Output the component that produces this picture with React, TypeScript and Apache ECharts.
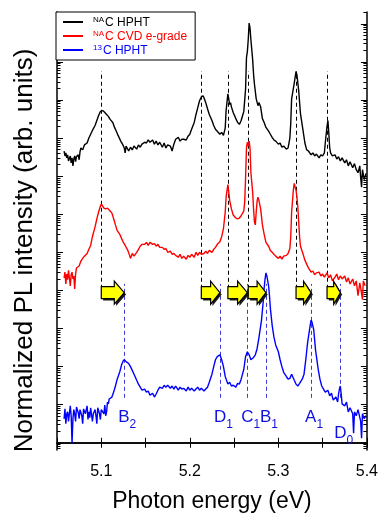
import React, { useEffect, useRef } from "react";
import * as echarts from "echarts";

// x axis (photon energy, eV)
const xTicks = [5.05, 5.1, 5.15, 5.2, 5.25, 5.3, 5.35, 5.4];
const xTickLabels = [5.1, 5.2, 5.3, 5.4];
// y axis: log scale, values are log10 of normalized intensity (offset per trace)
const yDecades = [0, 1, 2, 3, 4, 5, 6, 7, 8, 9, 10, 11];
const yMinorMultipliers = [2, 3, 4, 5, 6, 7, 8, 9];
const Y_MIN = -0.19;
const Y_MAX = 11.31;

const seriesNames = ["NAC HPHT", "NAC CVD e-grade", "13C HPHT"];
const seriesColors = ["#000000", "#ff0000", "#0000ff"];

const natHPHT = [
  [5.058, 7.66], [5.059, 7.53], [5.06, 7.61], [5.061, 7.48], [5.062, 7.56], [5.063, 7.4], [5.065, 7.53], [5.066, 7.35],
  [5.067, 7.48], [5.068, 7.27], [5.069, 7.45], [5.07, 7.53], [5.071, 7.38], [5.072, 7.51], [5.074, 7.56], [5.075, 7.43],
  [5.076, 7.64], [5.077, 7.74], [5.079, 7.69], [5.081, 7.82], [5.084, 7.87], [5.086, 8.0], [5.088, 8.1], [5.09, 8.2],
  [5.093, 8.33], [5.095, 8.46], [5.097, 8.59], [5.099, 8.7], [5.102, 8.72], [5.104, 8.67], [5.106, 8.62], [5.108, 8.57],
  [5.11, 8.49], [5.113, 8.41], [5.115, 8.28], [5.117, 8.18], [5.119, 8.07], [5.122, 7.92], [5.124, 7.84], [5.126, 7.74],
  [5.127, 7.61], [5.128, 7.79], [5.131, 7.66], [5.133, 7.76], [5.135, 7.69], [5.137, 7.79], [5.14, 7.71], [5.142, 7.82],
  [5.144, 7.76], [5.146, 7.84], [5.149, 7.89], [5.151, 7.87], [5.153, 7.95], [5.155, 7.89], [5.158, 7.95], [5.16, 7.84],
  [5.162, 7.92], [5.164, 7.82], [5.166, 7.89], [5.169, 7.76], [5.171, 7.87], [5.173, 7.74], [5.175, 7.82], [5.178, 7.79],
  [5.18, 7.66], [5.182, 7.84], [5.184, 7.97], [5.187, 8.02], [5.189, 7.92], [5.191, 7.97], [5.193, 7.97], [5.196, 7.95],
  [5.198, 8.05], [5.2, 8.1], [5.202, 8.23], [5.205, 8.41], [5.207, 8.62], [5.209, 8.8], [5.211, 8.98], [5.213, 9.08],
  [5.215, 9.11], [5.216, 9.06], [5.218, 8.93], [5.22, 8.77], [5.222, 8.62], [5.225, 8.46], [5.227, 8.33], [5.229, 8.23],
  [5.231, 8.18], [5.234, 8.1], [5.236, 8.15], [5.238, 8.07], [5.24, 8.26], [5.241, 8.72], [5.243, 9.16], [5.244, 9.03],
  [5.245, 8.88], [5.246, 8.93], [5.247, 8.82], [5.249, 8.67], [5.252, 8.51], [5.254, 8.41], [5.256, 8.36], [5.258, 8.46],
  [5.261, 8.7], [5.263, 9.29], [5.264, 10.11], [5.265, 10.27], [5.266, 10.58], [5.267, 11.02], [5.268, 10.89], [5.269, 10.58],
  [5.271, 10.06], [5.272, 9.68], [5.273, 9.42], [5.275, 9.03], [5.277, 8.85], [5.278, 8.93], [5.28, 8.82], [5.282, 8.51],
  [5.284, 8.41], [5.286, 8.28], [5.289, 8.18], [5.291, 8.1], [5.293, 8.02], [5.295, 7.95], [5.297, 7.92], [5.3, 7.84],
  [5.302, 7.87], [5.304, 7.76], [5.306, 7.79], [5.309, 7.71], [5.311, 7.74], [5.312, 7.87], [5.313, 8.0], [5.314, 8.38],
  [5.315, 9.03], [5.318, 9.45], [5.32, 9.75], [5.321, 9.66], [5.323, 9.24], [5.325, 8.64], [5.328, 8.18], [5.33, 7.87],
  [5.332, 7.69], [5.334, 7.66], [5.337, 7.56], [5.339, 7.61], [5.341, 7.53], [5.343, 7.58], [5.346, 7.48], [5.348, 7.56],
  [5.35, 7.53], [5.352, 7.61], [5.353, 7.87], [5.355, 8.31], [5.356, 8.46], [5.357, 8.13], [5.358, 7.74], [5.359, 7.61],
  [5.361, 7.53], [5.364, 7.56], [5.366, 7.45], [5.368, 7.51], [5.37, 7.4], [5.372, 7.48], [5.375, 7.35], [5.377, 7.43],
  [5.379, 7.27], [5.381, 7.38], [5.384, 7.22], [5.386, 7.33], [5.388, 7.17], [5.39, 7.09], [5.392, 7.27], [5.393, 6.96],
  [5.394, 6.71], [5.395, 7.17], [5.397, 6.91], [5.399, 7.07],
];

const natCVD = [
  [5.058, 4.33], [5.059, 4.48], [5.06, 4.17], [5.061, 4.43], [5.062, 4.28], [5.063, 4.53], [5.065, 4.12], [5.066, 4.41],
  [5.067, 4.48], [5.068, 4.3], [5.069, 4.38], [5.07, 4.04], [5.071, 4.43], [5.072, 4.59], [5.075, 4.64], [5.077, 4.77],
  [5.079, 4.84], [5.081, 4.9], [5.084, 4.97], [5.086, 5.08], [5.088, 5.18], [5.09, 5.41], [5.093, 5.67], [5.095, 5.88],
  [5.097, 6.06], [5.099, 6.21], [5.1, 6.27], [5.103, 6.16], [5.105, 6.14], [5.107, 6.16], [5.109, 6.11], [5.112, 6.03],
  [5.114, 5.88], [5.116, 5.72], [5.118, 5.57], [5.121, 5.47], [5.123, 5.36], [5.125, 5.26], [5.127, 5.18], [5.13, 5.05],
  [5.132, 4.92], [5.133, 4.84], [5.135, 4.97], [5.137, 4.9], [5.14, 5.0], [5.142, 5.08], [5.144, 5.16], [5.146, 5.21],
  [5.149, 5.21], [5.151, 5.26], [5.153, 5.18], [5.155, 5.26], [5.158, 5.21], [5.16, 5.23], [5.162, 5.16], [5.164, 5.21],
  [5.166, 5.13], [5.169, 5.13], [5.171, 5.08], [5.173, 5.1], [5.175, 5.0], [5.178, 5.03], [5.18, 4.95], [5.182, 4.97],
  [5.184, 4.92], [5.187, 4.87], [5.189, 4.95], [5.191, 4.84], [5.193, 4.9], [5.196, 4.82], [5.198, 4.92], [5.2, 4.87],
  [5.202, 4.95], [5.205, 4.87], [5.207, 5.0], [5.209, 4.92], [5.211, 5.0], [5.213, 4.95], [5.216, 4.97], [5.218, 5.03],
  [5.22, 4.97], [5.222, 5.05], [5.225, 5.0], [5.227, 5.08], [5.229, 5.13], [5.231, 5.21], [5.234, 5.28], [5.236, 5.41],
  [5.238, 5.62], [5.24, 6.06], [5.241, 6.45], [5.243, 6.78], [5.244, 6.58], [5.245, 6.37], [5.247, 6.14], [5.249, 5.98],
  [5.252, 5.9], [5.254, 5.88], [5.256, 5.9], [5.258, 5.96], [5.261, 6.09], [5.262, 6.32], [5.263, 6.96], [5.264, 7.74],
  [5.265, 7.89], [5.266, 7.79], [5.267, 7.92], [5.268, 7.74], [5.269, 7.09], [5.271, 6.58], [5.272, 6.14], [5.273, 5.8],
  [5.274, 5.72], [5.275, 6.06], [5.276, 6.34], [5.277, 6.45], [5.278, 6.37], [5.28, 6.14], [5.282, 5.72], [5.284, 5.47],
  [5.286, 5.26], [5.289, 5.16], [5.291, 5.05], [5.293, 5.0], [5.295, 4.95], [5.297, 4.9], [5.3, 4.84], [5.302, 4.9],
  [5.304, 4.82], [5.306, 4.9], [5.309, 4.92], [5.311, 4.97], [5.313, 5.1], [5.314, 5.41], [5.315, 6.06], [5.317, 6.65],
  [5.318, 6.81], [5.319, 6.71], [5.32, 6.63], [5.321, 6.45], [5.322, 6.19], [5.323, 5.8], [5.324, 5.41], [5.325, 5.16],
  [5.328, 4.95], [5.33, 4.79], [5.332, 4.69], [5.334, 4.59], [5.337, 4.48], [5.339, 4.51], [5.341, 4.41], [5.343, 4.46],
  [5.346, 4.48], [5.348, 4.38], [5.35, 4.43], [5.352, 4.35], [5.355, 4.46], [5.357, 4.33], [5.359, 4.41], [5.361, 4.25],
  [5.364, 4.35], [5.366, 4.43], [5.368, 4.28], [5.37, 4.38], [5.372, 4.3], [5.375, 4.38], [5.377, 4.22], [5.379, 4.33],
  [5.381, 4.17], [5.384, 4.3], [5.386, 4.12], [5.388, 4.25], [5.39, 3.86], [5.392, 4.2], [5.393, 4.07], [5.395, 3.76],
  [5.396, 4.25], [5.398, 4.12],
];

const c13HPHT = [
  [5.058, 0.63], [5.059, 0.89], [5.06, 0.5], [5.061, 0.76], [5.062, 0.81], [5.063, 0.56], [5.065, 0.97], [5.066, 0.71],
  [5.067, -0.01], [5.068, 0.63], [5.069, 0.87], [5.07, 0.76], [5.071, 0.56], [5.072, 0.94], [5.074, 0.79], [5.075, 0.63],
  [5.076, 0.87], [5.078, 0.71], [5.079, 0.5], [5.08, 0.89], [5.082, 0.76], [5.084, 0.97], [5.085, 0.61], [5.086, 0.81],
  [5.087, 0.66], [5.088, 0.92], [5.09, 0.56], [5.091, 0.76], [5.093, 0.87], [5.094, 0.71], [5.095, 0.5], [5.096, 0.92],
  [5.098, 0.76], [5.099, 0.61], [5.1, 0.87], [5.103, 0.76], [5.104, 0.99], [5.105, 0.71], [5.106, 0.81], [5.107, 1.07],
  [5.108, 1.02], [5.109, 1.15], [5.112, 1.2], [5.114, 1.33], [5.116, 1.49], [5.118, 1.67], [5.121, 1.87], [5.123, 2.05],
  [5.125, 2.16], [5.126, 2.18], [5.128, 2.13], [5.131, 2.08], [5.133, 2.0], [5.135, 1.9], [5.137, 1.8], [5.14, 1.64],
  [5.142, 1.54], [5.144, 1.46], [5.146, 1.38], [5.149, 1.41], [5.151, 1.33], [5.153, 1.36], [5.155, 1.25], [5.158, 1.3],
  [5.16, 1.2], [5.162, 1.28], [5.164, 1.38], [5.166, 1.46], [5.169, 1.43], [5.171, 1.51], [5.173, 1.46], [5.175, 1.51],
  [5.178, 1.43], [5.18, 1.49], [5.182, 1.41], [5.184, 1.49], [5.187, 1.38], [5.189, 1.46], [5.191, 1.41], [5.193, 1.43],
  [5.196, 1.36], [5.198, 1.46], [5.2, 1.38], [5.202, 1.43], [5.205, 1.36], [5.207, 1.41], [5.209, 1.46], [5.211, 1.38],
  [5.213, 1.43], [5.216, 1.36], [5.218, 1.41], [5.22, 1.46], [5.222, 1.59], [5.225, 1.8], [5.227, 2.0], [5.229, 2.18],
  [5.231, 2.26], [5.234, 2.31], [5.236, 2.18], [5.238, 2.0], [5.24, 1.74], [5.243, 1.54], [5.245, 1.59], [5.247, 1.49],
  [5.249, 1.51], [5.252, 1.46], [5.254, 1.56], [5.256, 1.54], [5.258, 1.67], [5.261, 1.93], [5.263, 2.26], [5.265, 2.39],
  [5.267, 2.31], [5.269, 2.18], [5.272, 2.24], [5.274, 2.31], [5.276, 2.47], [5.278, 2.75], [5.281, 3.22], [5.283, 3.73],
  [5.284, 4.07], [5.285, 4.3], [5.286, 4.46], [5.287, 4.38], [5.289, 4.12], [5.29, 3.86], [5.291, 3.53], [5.293, 3.09],
  [5.295, 2.78], [5.297, 2.57], [5.3, 2.39], [5.302, 2.18], [5.304, 2.0], [5.306, 1.85], [5.309, 1.74], [5.311, 1.67],
  [5.313, 1.69], [5.315, 1.8], [5.318, 1.64], [5.32, 1.54], [5.322, 1.49], [5.324, 1.56], [5.327, 1.67], [5.329, 1.8],
  [5.331, 2.18], [5.333, 2.62], [5.336, 3.09], [5.337, 3.22], [5.338, 3.17], [5.34, 2.96], [5.342, 2.44], [5.345, 1.93],
  [5.347, 1.67], [5.349, 1.49], [5.351, 1.41], [5.353, 1.33], [5.356, 1.38], [5.358, 1.23], [5.36, 1.3], [5.362, 1.12],
  [5.365, 1.2], [5.367, 1.07], [5.368, 1.28], [5.369, 1.41], [5.37, 1.49], [5.371, 1.28], [5.372, 1.02], [5.375, 0.97],
  [5.377, 1.07], [5.379, 0.81], [5.381, 0.92], [5.384, 0.76], [5.385, 0.25], [5.386, 0.81], [5.388, 0.71], [5.39, 0.87],
  [5.393, 0.56], [5.394, 0.12], [5.395, 0.76], [5.397, 0.63], [5.399, 0.71],
];

// peak markers (eV) and vertical extent of dashed guide lines (log10 units)
const natPeakE = [5.1, 5.213, 5.243, 5.266, 5.32, 5.355];
const c13PeakE = [5.126, 5.234, 5.265, 5.286, 5.337, 5.37];
const natGuideRange = [3.86, 9.75];
const c13GuideRange = [1.18, 4.17];
const arrowLevel = 3.94;
const peakLabelMain = ["B", "D", "C", "B", "A", "D"];
const peakLabelSub = ["2", "1", "1", "1", "1", "0"];
const peakLabelLevel = [0.62, 0.62, 0.62, 0.62, 0.62, 0.2];

const FONT = '"Liberation Sans", Arial, sans-serif';

export default function App() {
  const ref = useRef<HTMLDivElement>(null);
  useEffect(() => {
    if (!ref.current) return;
    const chart = echarts.init(ref.current, null, { renderer: "svg" });

    const yMinor: number[] = [];
    for (let n = -1; n <= 11; n++) {
      for (const k of yMinorMultipliers) {
        const v = n + Math.log10(k);
        if (v > Y_MIN && v < Y_MAX) yMinor.push(v);
      }
    }
    const yAx = (position: string, len: number, values: number[], showLine: boolean) => ({
      type: "value",
      position,
      min: Y_MIN,
      max: Y_MAX,
      axisLine: { show: showLine, lineStyle: { color: "#000", width: 1.5 } },
      axisTick: { show: true, inside: true, length: len, customValues: values, lineStyle: { color: "#000", width: 1 } },
      axisLabel: { show: false },
      splitLine: { show: false },
    });

    const guides = (es: number[], range: number[]) =>
      es.map((e) => [{ coord: [e, range[0]] }, { coord: [e, range[1]] }]);

    const legendFormatter = (name: string) => {
      const pre = name.startsWith("NA") ? "NA" : "13";
      return "{sup|" + pre + "}{t|" + name.slice(2) + "}";
    };

    chart.setOption({
      animation: false,
      textStyle: { fontFamily: FONT },
      grid: { left: 57, right: 12, top: 12, bottom: 59, containLabel: false },
      xAxis: [
        {
          type: "value",
          position: "bottom",
          min: 5.05,
          max: 5.4,
          axisLine: { lineStyle: { color: "#000", width: 1.5 } },
          axisTick: { inside: true, length: 5, customValues: xTicks, lineStyle: { color: "#000", width: 1 } },
          axisLabel: {
            customValues: xTickLabels,
            formatter: (v: number) => v.toFixed(1),
            margin: 12,
            fontSize: 16,
            color: "#000",
            fontFamily: FONT,
          },
          splitLine: { show: false },
          name: "Photon energy (eV)",
          nameLocation: "middle",
          nameGap: 38,
          nameTextStyle: { fontSize: 23, color: "#000", fontFamily: FONT },
        },
        {
          type: "value",
          position: "top",
          min: 5.05,
          max: 5.4,
          axisLine: { lineStyle: { color: "#000", width: 1.5 } },
          axisTick: { inside: true, length: 5, customValues: xTicks, lineStyle: { color: "#000", width: 1 } },
          axisLabel: { show: false },
          splitLine: { show: false },
        },
      ],
      yAxis: [
        yAx("left", 6, yDecades, true),
        yAx("left", 3.5, yMinor, false),
        yAx("right", 6, yDecades, true),
        yAx("right", 3.5, yMinor, false),
      ],
      legend: {
        orient: "vertical",
        left: 56,
        top: 12,
        padding: [3, 8, 4, 7],
        itemGap: 1,
        itemWidth: 20,
        itemHeight: 2,
        backgroundColor: "#fff",
        borderColor: "#000",
        borderWidth: 1,
        borderRadius: 0,
        formatter: legendFormatter,
        data: seriesNames.map((n, i) => ({
          name: n,
          icon: "rect",
          itemStyle: { color: seriesColors[i], borderWidth: 0 },
          textStyle: {
            color: seriesColors[i],
            rich: {
              sup: { fontSize: 8, lineHeight: 8, verticalAlign: "top", color: seriesColors[i], padding: [0, 1, 0, 5], fontFamily: FONT },
              t: { fontSize: 12, lineHeight: 14, color: seriesColors[i], fontFamily: FONT },
            },
          },
        })),
      },
      series: [
        {
          name: seriesNames[0],
          type: "line",
          data: natHPHT,
          showSymbol: false,
          symbol: "none",
          lineStyle: { color: seriesColors[0], width: 1.4 },
          itemStyle: { color: seriesColors[0] },
          z: 3,
          markLine: {
            silent: true,
            symbol: ["none", "none"],
            label: { show: false },
            lineStyle: { color: "#000", type: [4, 3], width: 1 },
            data: guides(natPeakE, natGuideRange),
            z: 2,
          },
        },
        {
          name: seriesNames[1],
          type: "line",
          data: natCVD,
          showSymbol: false,
          symbol: "none",
          lineStyle: { color: seriesColors[1], width: 1.4 },
          itemStyle: { color: seriesColors[1] },
          z: 3,
        },
        {
          name: seriesNames[2],
          type: "line",
          data: c13HPHT,
          showSymbol: false,
          symbol: "none",
          lineStyle: { color: seriesColors[2], width: 1.4 },
          itemStyle: { color: seriesColors[2] },
          z: 3,
          markLine: {
            silent: true,
            symbol: ["none", "none"],
            label: { show: false },
            lineStyle: { color: "#3c3cd2", type: [4, 3], width: 1 },
            data: guides(c13PeakE, c13GuideRange),
            z: 2,
          },
        },
        {
          name: "isotope shift",
          type: "custom",
          coordinateSystem: "cartesian2d",
          silent: true,
          z: 6,
          data: natPeakE.map((e, i) => [e, c13PeakE[i], arrowLevel]),
          encode: { x: [0, 1], y: 2 },
          renderItem: (params: any, api: any) => {
            const a = api.coord([api.value(0), api.value(2)]);
            const b = api.coord([api.value(1), api.value(2)]);
            const x0 = a[0];
            const x1 = b[0];
            const cy = a[1];
            const L = x1 - x0;
            const head = Math.min(10, L * 0.5);
            const bh = 6;
            const hh = 11.5;
            const pts = [
              [x0, cy - bh],
              [x1 - head, cy - bh],
              [x1 - head, cy - hh],
              [x1, cy],
              [x1 - head, cy + hh],
              [x1 - head, cy + bh],
              [x0, cy + bh],
            ];
            const sh = pts.map((p) => [p[0] + 1.8, p[1] + 1.8]);
            return {
              type: "group",
              children: [
                { type: "polygon", shape: { points: sh }, style: { fill: "#1a1a1a" } },
                { type: "polygon", shape: { points: pts }, style: { fill: "#ffff00", stroke: "#000", lineWidth: 1.2 } },
              ],
            };
          },
        },
        {
          name: "peak labels",
          type: "custom",
          coordinateSystem: "cartesian2d",
          silent: true,
          z: 6,
          data: c13PeakE.map((e, i) => [e, peakLabelLevel[i]]),
          renderItem: (params: any, api: any) => {
            const p = api.coord([api.value(0), api.value(1)]);
            const i = params.dataIndex;
            return {
              type: "text",
              x: p[0] - 6,
              y: p[1],
              style: {
                text: "{m|" + peakLabelMain[i] + "}{s|" + peakLabelSub[i] + "}",
                align: "left",
                verticalAlign: "middle",
                fill: "#1010e0",
                rich: {
                  m: { fontSize: 17, lineHeight: 22, fill: "#1010e0", fontFamily: FONT, verticalAlign: "top" },
                  s: { fontSize: 12, lineHeight: 10, fill: "#1010e0", fontFamily: FONT, verticalAlign: "bottom" },
                },
              },
            };
          },
        },
      ],
      graphic: [
        {
          type: "text",
          x: 22.5,
          y: 250.5,
          rotation: Math.PI / 2,
          style: {
            text: "Normalized PL intensity (arb. units)",
            font: '26px "Liberation Sans", Arial, sans-serif',
            fill: "#000",
            align: "center",
            verticalAlign: "middle",
          },
        },
      ],
    });
    return () => chart.dispose();
  }, []);
  return <div ref={ref} style={{ position: "fixed", left: 0, top: 0, width: 381, height: 516 }} />;
}
